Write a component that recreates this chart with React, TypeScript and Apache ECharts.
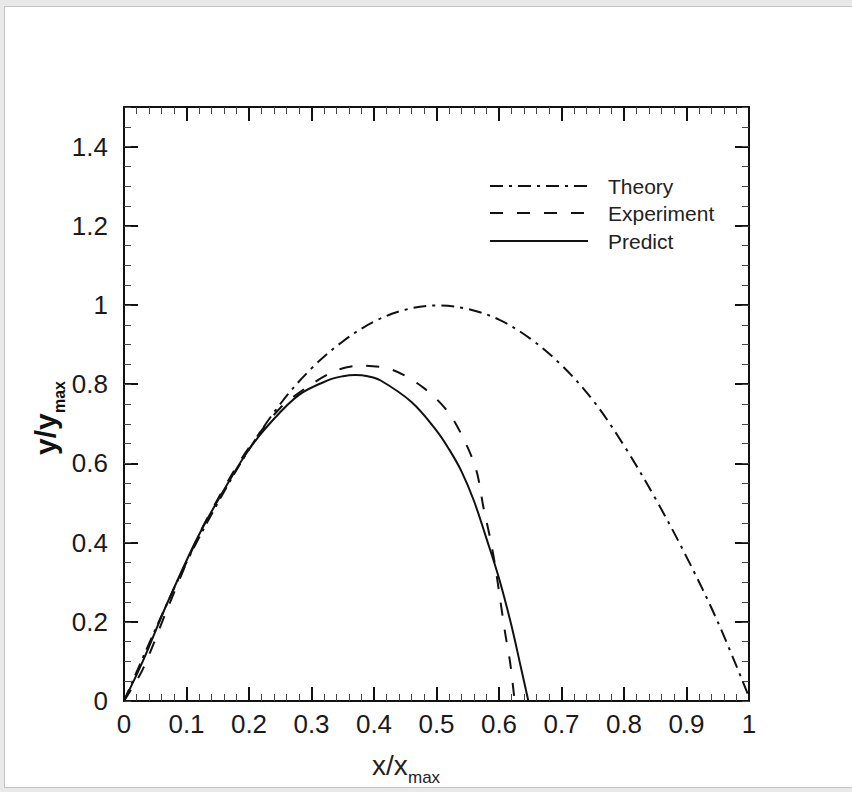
import React, { useEffect, useRef } from "react";
import * as echarts from "echarts";

// Theory (dash-dot)
const theoryX = [0, 0.05, 0.1, 0.15, 0.2, 0.25, 0.3, 0.35, 0.4, 0.45, 0.5, 0.55, 0.6, 0.65, 0.7, 0.75, 0.8, 0.85, 0.9, 0.95, 1.0];
const theoryY = [0, 0.18, 0.35, 0.5, 0.635, 0.75, 0.84, 0.908, 0.958, 0.988, 0.999, 0.99, 0.963, 0.915, 0.848, 0.76, 0.645, 0.512, 0.364, 0.2, 0.01];

// Experiment (dashed)
const expX = [0, 0.03, 0.07, 0.12, 0.17, 0.2, 0.25, 0.3, 0.34, 0.38, 0.43, 0.48, 0.52, 0.55, 0.565, 0.575, 0.586, 0.594, 0.602, 0.61, 0.618, 0.625];
const expY = [0, 0.08, 0.235, 0.42, 0.565, 0.64, 0.74, 0.8, 0.835, 0.847, 0.836, 0.79, 0.727, 0.64, 0.575, 0.49, 0.41, 0.34, 0.255, 0.17, 0.095, 0];

// Predict (solid)
const predX = [0, 0.03, 0.07, 0.12, 0.17, 0.2, 0.23, 0.28, 0.33, 0.35, 0.37, 0.39, 0.41, 0.46, 0.5, 0.52, 0.54, 0.56, 0.58, 0.6, 0.62, 0.635, 0.647];
const predY = [0, 0.1, 0.25, 0.42, 0.56, 0.635, 0.695, 0.773, 0.812, 0.82, 0.823, 0.82, 0.81, 0.755, 0.683, 0.636, 0.58, 0.505, 0.41, 0.31, 0.19, 0.085, 0];

const legendNames = ["Theory", "Experiment", "Predict"];
const xTitle = ["x/x", "max"];
const yTitle = ["y/y", "max"];

const FONT = "'Liberation Sans', Arial, sans-serif";
const INK = "#111";

const zip = (xs: number[], ys: number[]) => xs.map((x, i) => [x, ys[i]]);

export default function App() {
  const ref = useRef<HTMLDivElement>(null);
  useEffect(() => {
    if (!ref.current) return;
    const chart = echarts.init(ref.current, null, { renderer: "svg" });
    const gridL = 124, gridT = 107, gridW = 625, gridH = 594;

    const baseX = (pos: "bottom" | "top", labels: boolean) => ({
      type: "value",
      gridIndex: 0,
      position: pos,
      min: 0,
      max: 1,
      interval: 0.1,
      axisLine: { show: true, onZero: false, lineStyle: { color: INK, width: 2 } },
      axisTick: { show: true, inside: true, length: 14, lineStyle: { color: INK, width: 2 } },
      minorTick: { show: true, splitNumber: 5, length: 7, lineStyle: { color: "#444", width: 1 } },
      splitLine: { show: false },
      minorSplitLine: { show: false },
      axisLabel: { show: labels, fontSize: 26, color: "#1a1a1a", margin: 10, fontFamily: FONT },
    });
    const majorY = (pos: "left" | "right", labels: boolean) => ({
      type: "value",
      gridIndex: 0,
      position: pos,
      min: 0,
      max: 1.5,
      interval: 0.2,
      axisLine: { show: true, onZero: false, lineStyle: { color: INK, width: 2 } },
      axisTick: { show: true, inside: true, length: 14, lineStyle: { color: INK, width: 2 } },
      minorTick: { show: false },
      splitLine: { show: false },
      axisLabel: { show: labels, showMaxLabel: false, fontSize: 26, color: "#1a1a1a", margin: 16, fontFamily: FONT },
    });
    const minorY = (pos: "left" | "right") => ({
      type: "value",
      gridIndex: 0,
      position: pos,
      min: 0,
      max: 1.5,
      interval: 0.05,
      axisLine: { show: false, onZero: false },
      axisTick: { show: true, inside: true, length: 7, lineStyle: { color: "#444", width: 1 } },
      splitLine: { show: false },
      axisLabel: { show: false },
    });

    const legendY = [186, 213, 241];
    const dashes: (number[] | null)[] = [[13, 6, 3, 6], [13, 14], null];

    const graphic: any[] = [];
    legendNames.forEach((name, i) => {
      graphic.push({
        type: "line",
        shape: { x1: 490, y1: legendY[i], x2: 588, y2: legendY[i] },
        style: { stroke: INK, lineWidth: 2, lineDash: dashes[i] || undefined },
      });
      graphic.push({
        type: "text",
        x: 608,
        y: legendY[i],
        style: { text: name, fontSize: 21, fill: "#222", fontFamily: FONT, textVerticalAlign: "middle" },
      });
    });
    // x title
    graphic.push({
      type: "text", x: 372, y: 779,
      style: { text: xTitle[0], fontSize: 28, fill: "#222", fontFamily: FONT, textVerticalAlign: "bottom" },
    });
    graphic.push({
      type: "text", x: 408, y: 786,
      style: { text: xTitle[1], fontSize: 17, fill: "#222", fontFamily: FONT, textVerticalAlign: "bottom" },
    });
    // y title (rotated)
    graphic.push({
      type: "text", x: 60, y: 455, rotation: Math.PI / 2,
      style: { text: yTitle[0], fontSize: 30, fontWeight: "bold", fill: "#111", fontFamily: FONT, textVerticalAlign: "bottom" },
    });
    graphic.push({
      type: "text", x: 67, y: 413, rotation: Math.PI / 2,
      style: { text: yTitle[1], fontSize: 16, fontWeight: "bold", fill: "#111", fontFamily: FONT, textVerticalAlign: "bottom" },
    });

    const seriesStyle = (dash: number[] | null) => ({
      color: INK,
      width: 2,
      type: dash ? dash : "solid",
    });

    chart.setOption({
      animation: false,
      backgroundColor: "transparent",
      grid: { left: gridL, top: gridT, width: gridW, height: gridH, containLabel: false },
      xAxis: [baseX("bottom", true), baseX("top", false)],
      yAxis: [majorY("left", true), minorY("left"), majorY("right", false), minorY("right")],
      graphic,
      series: [
        {
          name: legendNames[0], type: "line", xAxisIndex: 0, yAxisIndex: 0,
          data: zip(theoryX, theoryY), showSymbol: false, smooth: 0.35,
          lineStyle: seriesStyle(dashes[0]), itemStyle: { color: INK },
        },
        {
          name: legendNames[1], type: "line", xAxisIndex: 0, yAxisIndex: 0,
          data: zip(expX, expY), showSymbol: false, smooth: 0.3,
          lineStyle: seriesStyle(dashes[1]), itemStyle: { color: INK },
        },
        {
          name: legendNames[2], type: "line", xAxisIndex: 0, yAxisIndex: 0,
          data: zip(predX, predY), showSymbol: false, smooth: 0.35,
          lineStyle: seriesStyle(null), itemStyle: { color: INK },
        },
      ],
    });
    return () => chart.dispose();
  }, []);

  return (
    <div style={{ position: "absolute", left: 0, top: 0, width: 852, height: 792, background: "#e9e9e9" }}>
      <div
        style={{
          position: "absolute", left: 4, top: 6, width: 848, height: 782,
          background: "#ffffff", borderLeft: "1px solid #c4c4c4", borderTop: "1px solid #c4c4c4",
          borderBottom: "1px solid #c4c4c4", boxSizing: "border-box",
        }}
      />
      <div ref={ref} style={{ position: "absolute", left: 0, top: 0, width: 852, height: 792 }} />
    </div>
  );
}
